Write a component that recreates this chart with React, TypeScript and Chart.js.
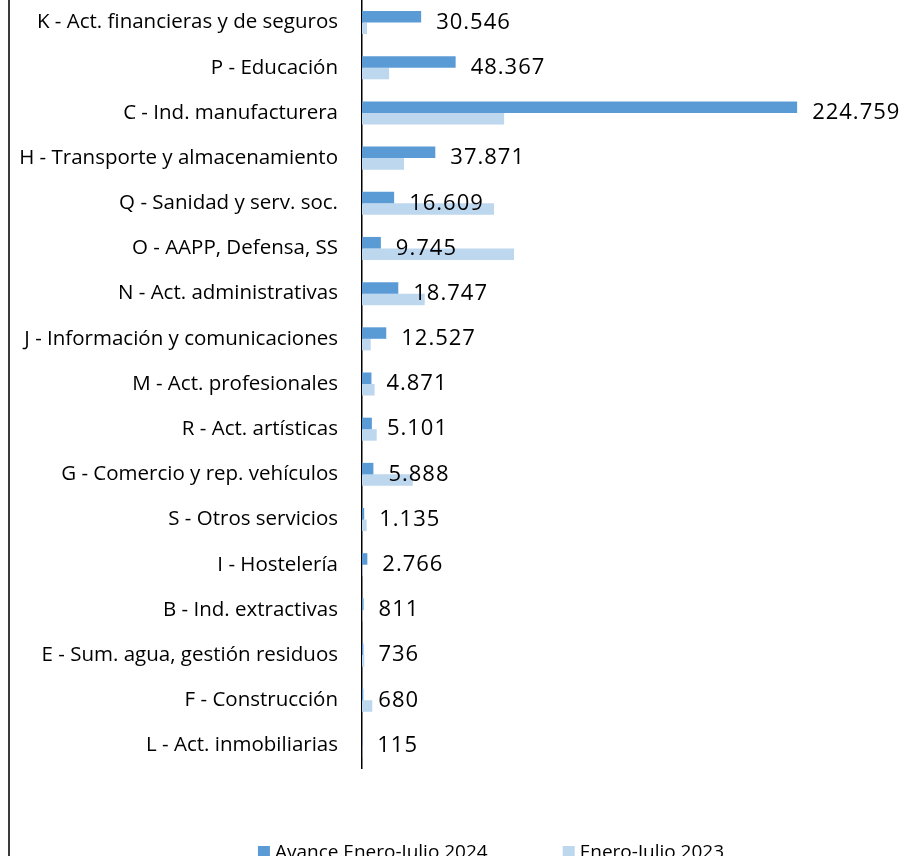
import React, { useEffect, useRef } from "react";
import { Chart, registerables } from "chart.js";

Chart.register(...registerables);

const categories: string[] = [
  "K - Act. financieras y de seguros",
  "P - Educación",
  "C - Ind. manufacturera",
  "H - Transporte y almacenamiento",
  "Q - Sanidad y serv. soc.",
  "O - AAPP, Defensa, SS",
  "N - Act. administrativas",
  "J - Información y comunicaciones",
  "M - Act. profesionales",
  "R - Act. artísticas",
  "G - Comercio y rep. vehículos",
  "S - Otros servicios",
  "I - Hostelería",
  "B - Ind. extractivas",
  "E - Sum. agua, gestión residuos",
  "F - Construcción",
  "L - Act. inmobiliarias",
];

const avance2024: number[] = [
  30546, 48367, 224759, 37871, 16609, 9745, 18747, 12527, 4871, 5101, 5888,
  1135, 2766, 811, 736, 680, 115,
];

const enero2023: number[] = [
  2600, 14000, 73400, 21700, 68200, 78500, 32400, 4500, 6500, 7600, 26200,
  2400, 300, 200, 1200, 5300, 100,
];

const seriesNames: string[] = ["Avance Enero-Julio 2024", "Enero-Julio 2023"];
const seriesColors: string[] = ["#5B9BD5", "#BDD7EE"];

const FONT = "'Open Sans', 'Liberation Sans', sans-serif";

function fmt(n: number): string {
  return String(n).replace(/\B(?=(\d{3})+(?!\d))/g, ".");
}

const decorPlugin = {
  id: "decor",
  afterDraw(chart: any) {
    const ctx = chart.ctx;
    ctx.save();
    // outer chart border (left side visible)
    ctx.strokeStyle = "#3a3a3a";
    ctx.lineWidth = 2;
    ctx.beginPath();
    ctx.moveTo(9, 0);
    ctx.lineTo(9, chart.height);
    ctx.stroke();

    // data labels for 2024 series
    const meta = chart.getDatasetMeta(0);
    const yScale = chart.scales.y;
    ctx.font = `22px ${FONT}`;
    try {
      (ctx as any).letterSpacing = "1px";
    } catch (e) {}
    ctx.fillStyle = "#000";
    ctx.textAlign = "left";
    ctx.textBaseline = "middle";
    meta.data.forEach((bar: any, i: number) => {
      const y = yScale.getPixelForValue(i);
      ctx.fillText(fmt(avance2024[i]), bar.x + 15, y);
    });
    try {
      (ctx as any).letterSpacing = "0px";
    } catch (e) {}

    // legend
    ctx.font = `19px ${FONT}`;
    ctx.textBaseline = "middle";
    const box = 12;
    const gapBox = 5;
    const gapItems = 75;
    const w0 = ctx.measureText(seriesNames[0]).width;
    const w1 = ctx.measureText(seriesNames[1]).width;
    const total = box + gapBox + w0 + gapItems + box + gapBox + w1;
    let x = 491 - total / 2;
    const ly = 852;
    seriesNames.forEach((name, i) => {
      ctx.fillStyle = seriesColors[i];
      ctx.fillRect(x, ly - box / 2, box, box);
      x += box + gapBox;
      ctx.fillStyle = "#000";
      ctx.fillText(name, x, ly + 1);
      x += (i === 0 ? w0 : w1) + gapItems;
    });
    ctx.restore();
  },
};

export default function App() {
  const canvasRef = useRef<HTMLCanvasElement | null>(null);

  useEffect(() => {
    if (!canvasRef.current) return;
    const chart = new Chart(canvasRef.current, {
      type: "bar",
      data: {
        labels: categories,
        datasets: [
          {
            label: seriesNames[0],
            data: avance2024,
            backgroundColor: seriesColors[0],
            barPercentage: 1,
            categoryPercentage: 0.51,
          },
          {
            label: seriesNames[1],
            data: enero2023,
            backgroundColor: seriesColors[1],
            barPercentage: 1,
            categoryPercentage: 0.51,
          },
        ],
      },
      options: {
        indexAxis: "y",
        animation: false,
        responsive: false,
        maintainAspectRatio: false,
        layout: { autoPadding: false, padding: { top: 0, right: 60, bottom: 88, left: 0 } },
        plugins: {
          legend: { display: false },
          tooltip: { enabled: false },
          title: { display: false },
        },
        scales: {
          x: {
            display: false,
            min: 0,
            max: 250000,
          },
          y: {
            grid: { display: false, drawTicks: false },
            border: { display: true, color: "#000", width: 1.5 },
            ticks: {
              color: "#000",
              padding: 24,
              font: { family: FONT, size: 20.5 },
              autoSkip: false,
            },
            afterFit(scale: any) {
              scale.width = 362;
              scale.paddingTop = 0;
              scale.paddingBottom = 0;
            },
          },
        },
      },
      plugins: [decorPlugin],
    });
    return () => chart.destroy();
  }, []);

  return (
    <div style={{ position: "absolute", left: 0, top: 0, width: 906, height: 856, background: "#fff" }}>
      <canvas ref={canvasRef} width={906} height={856} style={{ display: "block" }} />
    </div>
  );
}
